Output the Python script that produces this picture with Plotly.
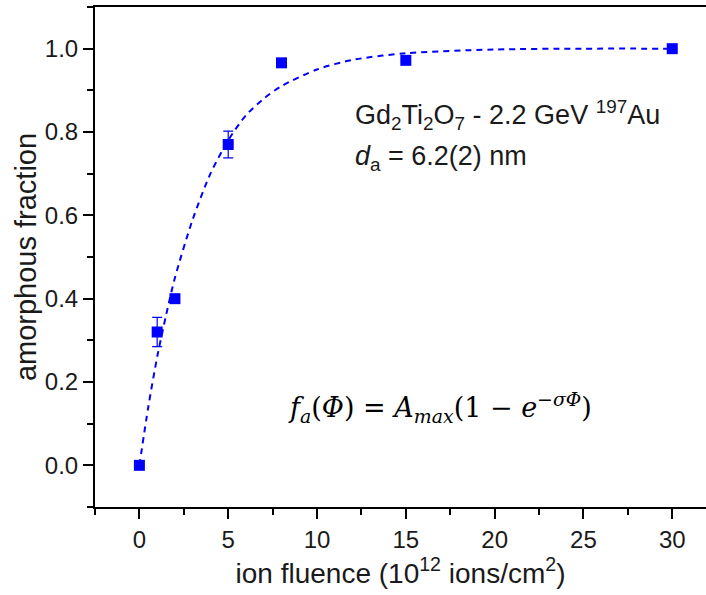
import plotly.graph_objects as go

# measured data
fluence = [0, 1, 2, 5, 8, 15, 30]
fraction = [0.0, 0.32, 0.40, 0.77, 0.966, 0.972, 1.0]
err = [0, 0.035, 0, 0.032, 0, 0, 0]

# fitted curve
fit_x = [0, 0.5, 1, 1.5, 2, 3, 4, 5, 6, 7, 8, 10, 12, 15, 20, 25, 30]
fit_y = [0.0, 0.14, 0.26, 0.36, 0.45, 0.59, 0.70, 0.78, 0.84, 0.88, 0.91, 0.95, 0.973, 0.989, 0.998, 1.0, 1.0]

x_ticks = [0, 5, 10, 15, 20, 25, 30]
y_ticks = [0.0, 0.2, 0.4, 0.6, 0.8, 1.0]

BLUE = "#0000FF"
TXT = "#1a1a1a"
FONT = "Liberation Sans, Arial, sans-serif"

fig = go.Figure()
fig.add_trace(go.Scatter(x=fit_x, y=fit_y, mode="lines",
                         line=dict(color=BLUE, width=2, dash="6px,5px", shape="spline", smoothing=0.8),
                         hoverinfo="skip", showlegend=False))
fig.add_trace(go.Scatter(x=fluence, y=fraction, mode="markers",
                         marker=dict(symbol="square", size=11, color=BLUE),
                         error_y=dict(type="data", array=err, visible=True, color=BLUE, thickness=1.2, width=5),
                         showlegend=False))

axis_common = dict(showline=True, linecolor="black", linewidth=2, ticks="outside", ticklen=10,
                   tickwidth=1.5, tickcolor="black", showgrid=False, zeroline=False,
                   tickfont=dict(family=FONT, size=24, color=TXT))

fig.update_xaxes(range=[-2.5, 31.9], tickvals=x_ticks, mirror=True,
                 minor=dict(ticks="outside", ticklen=6, tickwidth=1.5, tickcolor="black", dtick=2.5, tick0=0),
                 title=dict(text="ion fluence (10<sup>12</sup> ions/cm<sup>2</sup>)",
                            font=dict(family=FONT, size=28, color=TXT), standoff=10),
                 **axis_common)
fig.update_yaxes(range=[-0.1, 1.1], tickvals=y_ticks, tickformat=".1f",
                 minor=dict(ticks="outside", ticklen=6, tickwidth=1.5, tickcolor="black", dtick=0.1, tick0=0),
                 title=dict(text="amorphous fraction", font=dict(family=FONT, size=29, color=TXT), standoff=0),
                 **axis_common)

fig.add_annotation(xref="x", yref="y", x=12.0, y=0.842, xanchor="left", yanchor="middle", showarrow=False,
                   text="Gd<sub>2</sub>Ti<sub>2</sub>O<sub>7</sub> - 2.2 GeV <sup>197</sup>Au",
                   font=dict(family=FONT, size=27, color=TXT))
fig.add_annotation(xref="x", yref="y", x=12.0, y=0.737, xanchor="left", yanchor="middle", showarrow=False,
                   text="<i>d</i><sub>a</sub> = 6.2(2) nm",
                   font=dict(family=FONT, size=27, color=TXT))
fig.add_annotation(xref="x", yref="y", x=16.9, y=0.14, xanchor="center", yanchor="middle", showarrow=False,
                   text="<i>f</i><sub><i>a</i></sub>(<i>Φ</i>) = <i>A</i><sub><i>max</i></sub>(1 − <i>e</i><sup>−<i>σΦ</i></sup>)",
                   font=dict(family="DejaVu Serif, Liberation Serif, serif", size=27, color="black"))

fig.update_layout(width=706, height=595, margin=dict(l=95, r=0, t=7, b=88),
                  plot_bgcolor="white", paper_bgcolor="white", showlegend=False)

fig.write_html("out.html")
